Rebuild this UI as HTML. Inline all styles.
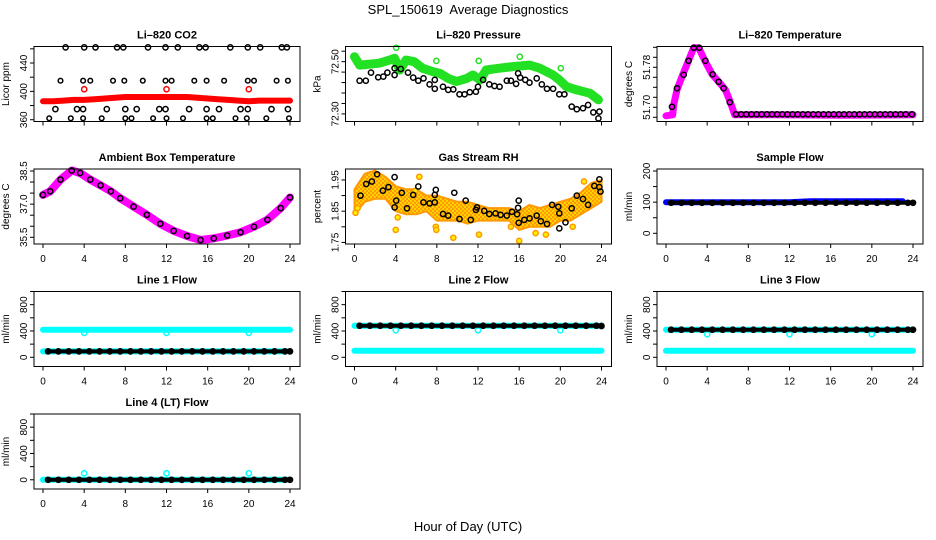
<!DOCTYPE html>
<html><head><meta charset="utf-8"><title>SPL_150619 Average Diagnostics</title>
<style>
html,body{margin:0;padding:0;background:#fff;}
svg{display:block;font-family:"Liberation Sans",Arial,sans-serif;}
</style></head>
<body>
<svg id="chart" width="936" height="540" viewBox="0 0 936 540" xmlns="http://www.w3.org/2000/svg">
<defs>
<clipPath id="row1clip"><rect x="0" y="0" width="936" height="132"/></clipPath>
<pattern id="rhpat" width="4" height="4" patternUnits="userSpaceOnUse"><rect width="4" height="4" fill="#ffd000"/><circle cx="1" cy="1" r="1" fill="#ff8c00"/><circle cx="3" cy="3" r="1" fill="#ff8c00"/></pattern>
</defs>
<text x="468" y="14" text-anchor="middle" font-size="13">SPL_150619&#160; Average Diagnostics</text>
<text x="468" y="531" text-anchor="middle" font-size="13">Hour of Day (UTC)</text>
</svg>
<script>
// ---- shared axis data ----
const xTicks=[0,4,8,12,16,20,24];
// CO2
const co2Ticks=[360,380,400,420,440,460];
const co2Labels=[360,400,440];
const co2TopH=[2.2,4.0,5.1,7.2,7.8,10.2,11.9,13.1,15.2,15.8,18.2,19.9,21.1,23.2,23.7];
const co2TopV=[462,462,462,462,462,462,462,462,462,462,462,462,462,462,462];
const co2MidH=[1.7,3.9,4.6,6.8,7.9,9.7,11.9,12.5,14.7,15.9,17.6,19.9,20.5,22.7,23.8];
const co2MidV=[415,415,415,415,415,415,415,415,415,415,415,415,415,415,415];
const co2LowH=[1.2,3.3,3.9,6.2,8.0,9.1,11.3,11.9,14.2,15.9,17.1,19.2,19.9,22.2,23.8];
const co2LowV=[375,375,375,375,375,375,375,375,375,375,375,375,375,375,375];
const co2BotH=[0.6,2.7,3.9,5.7,8.0,8.6,10.7,12.0,13.6,15.9,16.5,18.7,19.8,21.7,23.9];
const co2BotV=[362,362,362,362,362,362,362,362,362,362,362,362,362,362,362];
const co2RedH=[0,1,2,3,4,5,6,7,8,9,10,11,12,13,14,15,16,17,18,19,20,21,22,23,24];
const co2RedV=[386,386,387,388,388,389,390,391,392,392,392,392,392,392,392,391,390,389,388,387,386,387,387,387,387];
const co2OutH=[4,12,20];
const co2OutV=[403,403,403];
// Pressure
const prTicks=[72.30,72.34,72.38,72.42,72.46,72.50,72.54];
const prLabels=[72.30,72.50];
const prGreenH=[0,0.5,2.4,3.4,3.9,4.4,5.0,5.8,6.6,7.6,8.3,9.1,9.9,10.9,11.5,12.2,12.8,14.1,15.4,17.0,18.0,19.3,19.9,20.6,21.6,22.9,23.7];
const prGreenV=[72.519,72.487,72.494,72.506,72.513,72.468,72.506,72.500,72.475,72.462,72.455,72.436,72.424,72.436,72.449,72.430,72.468,72.475,72.481,72.487,72.475,72.449,72.430,72.404,72.392,72.379,72.354];
const prGOutH=[4.05,7.95,12.07,16.06,20.05];
const prGOutV=[72.553,72.503,72.503,72.519,72.475];
const prBlackH=[0.5,1.1,1.6,2.3,2.8,3.2,3.9,3.9,4.5,5.2,5.7,6.2,6.7,7.3,7.8,7.8,8.6,9.1,9.6,10.2,10.7,11.2,11.8,12.0,12.5,13.1,13.6,14.1,14.8,15.2,15.7,15.9,16.1,16.6,17.0,17.7,18.2,18.7,19.3,19.9,20.4,21.1,21.6,22.2,22.7,23.2,23.7,23.8];
const prBlackV=[72.427,72.427,72.458,72.440,72.443,72.458,72.475,72.449,72.472,72.458,72.439,72.427,72.436,72.413,72.430,72.396,72.404,72.392,72.394,72.375,72.375,72.383,72.385,72.404,72.430,72.413,72.407,72.404,72.427,72.427,72.415,72.455,72.439,72.430,72.420,72.436,72.413,72.396,72.396,72.375,72.375,72.328,72.318,72.322,72.334,72.306,72.283,72.309];
// Li-820 temperature
const tmTicks=[51.68,51.70,51.72,51.74,51.76,51.78,51.80,51.82];
const tmLabels=[51.70,51.78];
const tmBandH=[0,0.65,0.75,1.07,1.62,2.14,2.69,3.18,3.83,4.48,5.12,5.77,6.26,6.68,10.6,17.1,24];
const tmBandV=[51.683,51.685,51.705,51.735,51.765,51.791,51.819,51.819,51.791,51.766,51.751,51.735,51.710,51.685,51.685,51.684,51.685];
const tmBlackH=[0.58,1.07,1.72,2.2,2.7,3.24,3.83,4.54,5.12,5.6,6.2,6.8,7.3,7.8,8.3,8.8,9.3,9.8,10.3,10.8,11.3,11.8,12.3,12.8,13.3,13.8,14.3,14.8,15.3,15.8,16.3,16.8,17.3,17.8,18.3,18.8,19.3,19.8,20.3,20.8,21.3,21.8,22.3,22.8,23.3,23.9];
const tmBlackV=[51.701,51.738,51.765,51.793,51.819,51.819,51.793,51.766,51.751,51.738,51.710,51.686,51.686,51.686,51.686,51.686,51.686,51.686,51.686,51.686,51.686,51.686,51.686,51.686,51.686,51.686,51.686,51.686,51.686,51.686,51.686,51.686,51.686,51.686,51.686,51.686,51.686,51.686,51.686,51.686,51.686,51.686,51.686,51.686,51.686,51.686];
// Ambient box temperature
const abTicks=[35.5,36.0,36.5,37.0,37.5,38.0,38.5];
const abLabels=[35.5,37.0,38.5];
const abH=[0,0.7,1.7,2.8,3.6,4.6,5.6,6.6,7.5,8.8,10.1,11.4,12.7,14.0,15.3,16.6,17.9,19.2,20.5,21.8,23.1,24.0];
const abV=[37.42,37.58,38.11,38.52,38.41,38.11,37.85,37.58,37.27,36.89,36.52,36.11,35.79,35.56,35.38,35.45,35.58,35.73,35.98,36.29,36.82,37.30];
// Gas stream RH
const rhTicks=[1.75,1.80,1.85,1.90,1.95];
const rhLabels=[1.75,1.85,1.95];
const rhCloudH=[0,1,2,3,4,5,6,7,8,9,10,11,12,13,14,15,16,17,18,19,20,21,22,23,24];
const rhCloudLo=[1.84,1.88,1.89,1.89,1.85,1.84,1.84,1.85,1.82,1.82,1.82,1.81,1.82,1.82,1.82,1.82,1.79,1.80,1.80,1.80,1.82,1.82,1.84,1.86,1.88];
const rhCloudHi=[1.92,1.97,1.98,1.96,1.93,1.92,1.92,1.90,1.90,1.89,1.88,1.88,1.87,1.86,1.86,1.86,1.85,1.87,1.86,1.87,1.88,1.89,1.91,1.94,1.95];
const rhOutH=[0.1,0.3,4.0,4.2,6.3,7.9,7.95,9.6,12.1,16.0,17.6,18.6,21.2,22.3,5.9,15.2];
const rhOutV=[1.845,1.86,1.79,1.83,1.96,1.80,1.79,1.765,1.775,1.755,1.78,1.775,1.80,1.945,1.915,1.80];
const rhBlackH=[0.58,1.14,1.69,2.2,2.76,3.3,3.9,3.9,4.05,4.6,5.1,5.7,6.2,6.7,7.3,7.8,7.8,7.9,8.6,9.1,9.7,10.2,10.8,11.3,11.8,11.9,12.6,13.1,13.7,14.2,14.8,15.3,15.8,15.9,15.95,15.95,16.5,17.0,17.7,18.1,18.7,19.2,19.8,19.9,19.9,20.5,21.1,21.6,22.2,22.7,23.3,23.8,23.8,23.9];
const rhBlackV=[1.900,1.937,1.945,1.968,1.916,1.927,1.959,1.862,1.884,1.909,1.859,1.902,1.929,1.878,1.875,1.878,1.902,1.918,1.841,1.836,1.909,1.825,1.884,1.822,1.854,1.862,1.851,1.841,1.843,1.838,1.836,1.848,1.840,1.861,1.884,1.813,1.822,1.827,1.836,1.818,1.809,1.870,1.864,1.843,1.795,1.814,1.859,1.900,1.889,1.870,1.931,1.952,1.927,1.913];
// Sample flow
const sfTicks=[0,50,100,150,200];
const sfLabels=[0,100,200];
const sfBlueH=[0,2,4,6,8,10,12,14,16,18,20,22,23];
const sfBlueV=[100,100,100,100,100,100,100,103,103,103,103,103,103];
const sfBlackH=[0.5,1.5,2.5,3.5,4.5,5.5,6.5,7.5,8.5,9.5,10.5,11.5,12.5,13.5,14.5,15.5,16.5,17.5,18.5,19.5,20.5,21.5,22.5,23.5,24];
const sfBlackV=[98,98,98,98,98,98,98,98,98,98,98,98,98,98,98,98,98,98,98,98,98,98,98,98,98];
// Line flows
const flTicks=[0,200,400,600,800,1000];
const flLabels=[0,400,800];
const flH=[0,1,2,3,4,5,6,7,8,9,10,11,12,13,14,15,16,17,18,19,20,21,22,23,24];
const flBH=[0.5,1.5,2.5,3.5,4.5,5.5,6.5,7.5,8.5,9.5,10.5,11.5,12.5,13.5,14.5,15.5,16.5,17.5,18.5,19.5,20.5,21.5,22.5,23.5,24];
const dipH=[4,12,20];
const l1Top=[420,420,420,420,420,420,420,420,420,420,420,420,420,420,420,420,420,420,420,420,420,420,420,420,420];
const l1Bot=[90,90,90,90,90,90,90,90,90,90,90,90,90,90,90,90,90,90,90,90,90,90,90,90,90];
const l1Black=[90,90,90,90,90,90,90,90,90,90,90,90,90,90,90,90,90,90,90,90,90,90,90,90,90];
const l1Dip=[370,370,370];
const l2Top=[480,480,480,480,480,480,480,480,480,480,480,480,480,480,480,480,480,480,480,480,480,480,480,480,480];
const l2Bot=[100,100,100,100,100,100,100,100,100,100,100,100,100,100,100,100,100,100,100,100,100,100,100,100,100];
const l2Black=[480,480,480,480,480,480,480,480,480,480,480,480,480,480,480,480,480,480,480,480,480,480,480,480,475];
const l2Dip=[410,410,410];
const l3Top=[420,420,420,420,420,420,420,420,420,420,420,420,420,420,420,420,420,420,420,420,420,420,420,420,420];
const l3Bot=[100,100,100,100,100,100,100,100,100,100,100,100,100,100,100,100,100,100,100,100,100,100,100,100,100];
const l3Black=[420,420,420,420,420,420,420,420,420,420,420,420,420,420,420,420,420,420,420,420,420,420,420,420,420];
const l3Dip=[350,350,350];
const l4Cyan=[0,0,0,0,0,0,0,0,0,0,0,0,0,0,0,0,0,0,0,0,0,0,0,0,0];
const l4Black=[0,0,0,0,0,0,0,0,0,0,0,0,0,0,0,0,0,0,0,0,0,0,0,0,0];
const l4Spike=[100,100,100];

const NS='http://www.w3.org/2000/svg';
const svg=document.getElementById('chart');
function mk(tag,parent){const e=document.createElementNS(NS,tag);parent.appendChild(e);return e;}
function label(e,name){
  
  
}

function panel(c,r,slug,title,ytitle,ydom,yticks,ylabels,fmt){
  const L=34+311.5*c, R=L+266, T=46.5+122.5*r, B=T+75;
  const x0=43+311.5*c, x1=290+311.5*c;
  const g=mk('g',svg);
  label(g, slug+'-panel');
  const p={g:g,
    xs:h=>x0+h*(x1-x0)/24,
    ys:v=>B-(v-ydom[0])/(ydom[1]-ydom[0])*(B-T),
    L:L,R:R,T:T,B:B,slug:slug};
  const t=mk('text',g);
  label(t, slug+'-title');
  t.setAttribute('x',(L+R)/2);t.setAttribute('y',T-8);t.setAttribute('text-anchor','middle');
  t.setAttribute('font-size','11');t.setAttribute('font-weight','bold');t.textContent=title;
  const yt=mk('text',g);
  label(yt, slug+'-y-axis-title');
  yt.setAttribute('transform','translate('+(L-25)+','+((T+B)/2)+') rotate(-90)');
  yt.setAttribute('text-anchor','middle');yt.setAttribute('font-size','10');yt.textContent=ytitle;
  const xa=mk('g',g);
  label(xa, slug+'-x-axis');
  if(r===0) xa.setAttribute('clip-path','url(#row1clip)');
  xTicks.forEach(h=>{
    const ln=mk('line',xa);
    label(ln, 'x-tick');
    ln.setAttribute('x1',p.xs(h));ln.setAttribute('x2',p.xs(h));ln.setAttribute('y1',B);ln.setAttribute('y2',B+4);ln.setAttribute('stroke','#000');
    const tx=mk('text',xa);
    label(tx, 'x-tick-label');
    tx.setAttribute('x',p.xs(h));tx.setAttribute('y',B+18);tx.setAttribute('text-anchor','middle');tx.setAttribute('font-size','10');tx.textContent=h;
  });
  const ya=mk('g',g);
  label(ya, slug+'-y-axis');
  yticks.forEach(v=>{
    const ln=mk('line',ya);
    label(ln, 'y-tick');
    ln.setAttribute('x1',L);ln.setAttribute('x2',L-4);ln.setAttribute('y1',p.ys(v));ln.setAttribute('y2',p.ys(v));ln.setAttribute('stroke','#000');
  });
  ylabels.forEach(v=>{
    const tx=mk('text',ya);
    label(tx, 'y-tick-label');
    tx.setAttribute('transform','translate('+(L-7)+','+p.ys(v)+') rotate(-90)');
    tx.setAttribute('text-anchor','middle');tx.setAttribute('font-size','10');tx.textContent=fmt(v);
  });
  p.marks=mk('g',g);
  label(p.marks, slug+'-marks');
  const bx=mk('rect',g);
  label(bx, slug+'-plot-box');
  bx.setAttribute('x',L);bx.setAttribute('y',T);bx.setAttribute('width',R-L);bx.setAttribute('height',B-T);
  bx.setAttribute('fill','none');bx.setAttribute('stroke','#000');bx.setAttribute('stroke-width','1');
  return p;
}
function band(p,hs,vs,color,w,name){
  const pl=mk('polyline',p.marks);
  label(pl, name);
  pl.setAttribute('points',hs.map((h,i)=>p.xs(h).toFixed(1)+','+p.ys(vs[i]).toFixed(1)).join(' '));
  pl.setAttribute('fill','none');pl.setAttribute('stroke',color);pl.setAttribute('stroke-width',w);
  pl.setAttribute('stroke-linejoin','round');pl.setAttribute('stroke-linecap','round');
}
function dots(p,hs,vs,color,name,rad,fill){
  const gg=mk('g',p.marks);
  label(gg, name);
  hs.forEach((h,i)=>{
    const ci=mk('circle',gg);
    label(ci, name+'-point');
    ci.setAttribute('cx',p.xs(h).toFixed(1));ci.setAttribute('cy',p.ys(vs[i]).toFixed(1));
    ci.setAttribute('r',rad||2.6);ci.setAttribute('fill',fill||'none');ci.setAttribute('stroke',color);ci.setAttribute('stroke-width','1.5');
  });
}
const f0=v=>String(v), f1=v=>v.toFixed(1), f2=v=>v.toFixed(2);

// CO2
let p=panel(0,0,'co2','Li\u2013820 CO2','Licor ppm',[357.5,463.3],co2Ticks,co2Labels,f0);
dots(p,co2TopH,co2TopV,'#000','co2-black-high');
dots(p,co2MidH,co2MidV,'#000','co2-black-mid',2.3);
dots(p,co2LowH,co2LowV,'#000','co2-black-low');
dots(p,co2BotH,co2BotV,'#000','co2-black-bottom',2.3);
band(p,co2RedH,co2RedV,'#ff0000',6,'co2-red-band');
dots(p,co2OutH,co2OutV,'#ff0000','co2-red-outliers');
// Pressure
p=panel(1,0,'pressure','Li\u2013820 Pressure','kPa',[72.271,72.558],prTicks,prLabels,f2);
band(p,prGreenH,prGreenV,'#22e022',9,'pressure-green-band');
dots(p,prGOutH,prGOutV,'#22e022','pressure-green-outliers');
dots(p,prBlackH,prBlackV,'#000','pressure-black-points');
// Li-820 temperature
p=panel(2,0,'li820-temp','Li\u2013820 Temperature','degrees C',[51.6716,51.8216],tmTicks,tmLabels,f2);
band(p,tmBandH,tmBandV,'#ff00ff',7,'temp-magenta-band');
dots(p,tmBlackH,tmBlackV,'#000','temp-black-points');
// Ambient
p=panel(0,1,'ambient-temp','Ambient Box Temperature','degrees C',[35.197,38.59],abTicks,abLabels,f1);
band(p,abH,abV,'#ff00ff',8,'ambient-magenta-band');
dots(p,abH,abV,'#000','ambient-black-points');
// RH
p=panel(1,1,'gas-rh','Gas Stream RH','percent',[1.745,1.985],rhTicks,rhLabels,f2);
(function(){
  const pg=mk('polygon',p.marks);
  label(pg, 'rh-orange-cloud');
  const up=rhCloudH.map((h,i)=>p.xs(h).toFixed(1)+','+p.ys(rhCloudHi[i]).toFixed(1));
  const lo=rhCloudH.map((h,i)=>p.xs(h).toFixed(1)+','+p.ys(rhCloudLo[i]).toFixed(1)).reverse();
  pg.setAttribute('points',up.concat(lo).join(' '));
  pg.setAttribute('fill','url(#rhpat)');pg.setAttribute('stroke','#ff9a00');pg.setAttribute('stroke-width','2');pg.setAttribute('stroke-linejoin','round');
})();
dots(p,rhOutH,rhOutV,'#ff9a00','rh-orange-outliers',2.6,'#ffee00');
dots(p,rhBlackH,rhBlackV,'#000','rh-black-points');
// Sample flow
p=panel(2,1,'sample-flow','Sample Flow','ml/min',[-34.3,206.4],sfTicks,sfLabels,f0);
band(p,sfBlueH,sfBlueV,'#0000ff',6,'sample-blue-band');
band(p,sfBlackH,sfBlackV,'#000',4,'sample-black-band');
dots(p,sfBlackH,sfBlackV,'#000','sample-black-points');
// Line 1
p=panel(0,2,'line1-flow','Line 1 Flow','ml/min',[-140,1000],flTicks,flLabels,f0);
band(p,flH,l1Top,'#00ffff',6,'line1-cyan-high');
dots(p,dipH,l1Dip,'#00ffff','line1-cyan-dips');
band(p,flH,l1Bot,'#00ffff',6,'line1-cyan-low');
band(p,flBH,l1Black,'#000',4,'line1-black-band');
dots(p,flBH,l1Black,'#000','line1-black-points');
// Line 2
p=panel(1,2,'line2-flow','Line 2 Flow','ml/min',[-140,1000],flTicks,flLabels,f0);
band(p,flH,l2Top,'#00ffff',6,'line2-cyan-high');
dots(p,dipH,l2Dip,'#00ffff','line2-cyan-dips');
band(p,flH,l2Bot,'#00ffff',6,'line2-cyan-low');
band(p,flBH,l2Black,'#000',4,'line2-black-band');
dots(p,flBH,l2Black,'#000','line2-black-points');
// Line 3
p=panel(2,2,'line3-flow','Line 3 Flow','ml/min',[-140,1000],flTicks,flLabels,f0);
band(p,flH,l3Top,'#00ffff',6,'line3-cyan-high');
dots(p,dipH,l3Dip,'#00ffff','line3-cyan-dips');
band(p,flH,l3Bot,'#00ffff',6,'line3-cyan-low');
band(p,flBH,l3Black,'#000',4,'line3-black-band');
dots(p,flBH,l3Black,'#000','line3-black-points');
// Line 4
p=panel(0,3,'line4-flow','Line 4 (LT) Flow','ml/min',[-140,1000],flTicks,flLabels,f0);
band(p,flH,l4Cyan,'#00ffff',6,'line4-cyan-band');
dots(p,dipH,l4Spike,'#00ffff','line4-cyan-spikes');
band(p,flBH,l4Black,'#000',4,'line4-black-band');
dots(p,flBH,l4Black,'#000','line4-black-points');
</script>
</body></html>
